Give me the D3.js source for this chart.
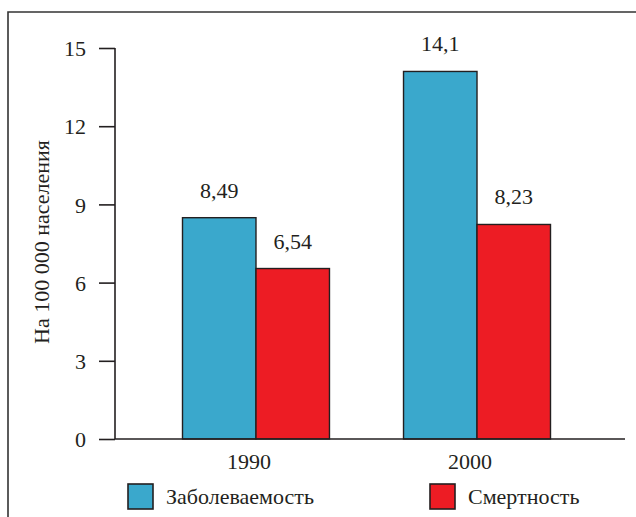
<!DOCTYPE html>
<html>
<head>
<meta charset="utf-8">
<script src="https://cdn.jsdelivr.net/npm/d3@7"></script>
<style>
  html, body { margin: 0; padding: 0; background: #fff; }
  svg { display: block; }
  svg text { font-family: "Liberation Serif", serif !important; font-size: 22px !important; }
</style>
</head>
<body>
<svg id="fig" width="636" height="517"></svg>
<script>
const years = ["1990", "2000"];
const seriesNames = ["Заболеваемость", "Смертность"];
const incidence = [8.49, 14.1];
const mortality = [6.54, 8.23];
const valueLabels = [["8,49", "14,1"], ["6,54", "8,23"]];
const yTicks = [0, 3, 6, 9, 12, 15];
const yTitle = "На 100 000 населения";
const colors = ["#3aa8cc", "#ed1c24"];

const FONT = "Liberation Serif";
const svg = d3.select("#fig");
const ink = "#231f20";

// frame (left and top edges)
svg.append("path")
  .attr("d", "M8,517 V12 H636")
  .attr("fill", "none").attr("stroke", "#333").attr("stroke-width", 1.6);

const axisX0 = 115, axisX1 = 625;
const y = d3.scaleLinear().domain([0, 15]).range([439, 48]);
const x = d3.scaleBand().domain(years).range([182.5, 550.5]).paddingInner(0.335).paddingOuter(0);
const xs = d3.scaleBand().domain(seriesNames).range([0, x.bandwidth()]);

const series = [incidence, mortality];
const data = [];
years.forEach((yr, i) => {
  seriesNames.forEach((s, j) => {
    data.push({ year: yr, series: s, value: series[j][i], label: valueLabels[j][i], color: colors[j] });
  });
});

// bars
svg.append("g").selectAll("rect").data(data).join("rect")
  .attr("x", d => x(d.year) + xs(d.series))
  .attr("y", d => y(d.value))
  .attr("width", xs.bandwidth())
  .attr("height", d => y(0) - y(d.value))
  .attr("fill", d => d.color)
  .attr("stroke", ink).attr("stroke-width", 1.4);

// value labels
svg.append("g").selectAll("text").data(data).join("text")
  .attr("x", d => x(d.year) + xs(d.series) + xs.bandwidth() / 2)
  .attr("y", d => y(d.value) - 20)
  .attr("text-anchor", "middle")
  .text(d => d.label);

// y axis
const yAxis = d3.axisLeft(y).tickValues(yTicks).tickSize(16).tickPadding(13).tickFormat(d3.format("d"));
const gy = svg.append("g").attr("transform", `translate(${axisX0},0)`).call(yAxis);
gy.attr("font-family", FONT).attr("font-size", 22);
gy.select(".domain").attr("d", `M0,${y(15)}V${y(0)}`).attr("stroke", ink).attr("stroke-width", 1.6);
gy.selectAll(".tick line").attr("stroke", ink).attr("stroke-width", 1.6);
gy.selectAll(".tick text").attr("dy", "0.35em");

// x axis line
svg.append("line")
  .attr("x1", axisX0).attr("x2", axisX1).attr("y1", y(0)).attr("y2", y(0))
  .attr("stroke", ink).attr("stroke-width", 1.6);

// x labels
svg.append("g").selectAll("text").data(years).join("text")
  .attr("x", d => x(d) + x.bandwidth() / 2 - 7)
  .attr("y", 469)
  .attr("text-anchor", "middle")
  .text(d => d);

// y title
svg.append("text")
  .attr("transform", "translate(49,242) rotate(-90)")
  .attr("text-anchor", "middle")
  .text(yTitle);

// legend
const legendX = [128, 430];
const lg = svg.append("g").selectAll("g").data(seriesNames).join("g")
  .attr("transform", (d, i) => `translate(${legendX[i]},484)`);
lg.append("rect").attr("width", 25).attr("height", 25)
  .attr("fill", (d, i) => colors[i]).attr("stroke", ink).attr("stroke-width", 1.6);
lg.append("text").attr("x", 38).attr("y", 20).text(d => d);

// apply typography to every text element
svg.selectAll("text")
  .attr("font-family", FONT)
  .attr("font-size", 22)
  .style("font-family", FONT, "important")
  .style("font-size", "22px", "important")
  .style("fill", ink);
</script>
</body>
</html>
